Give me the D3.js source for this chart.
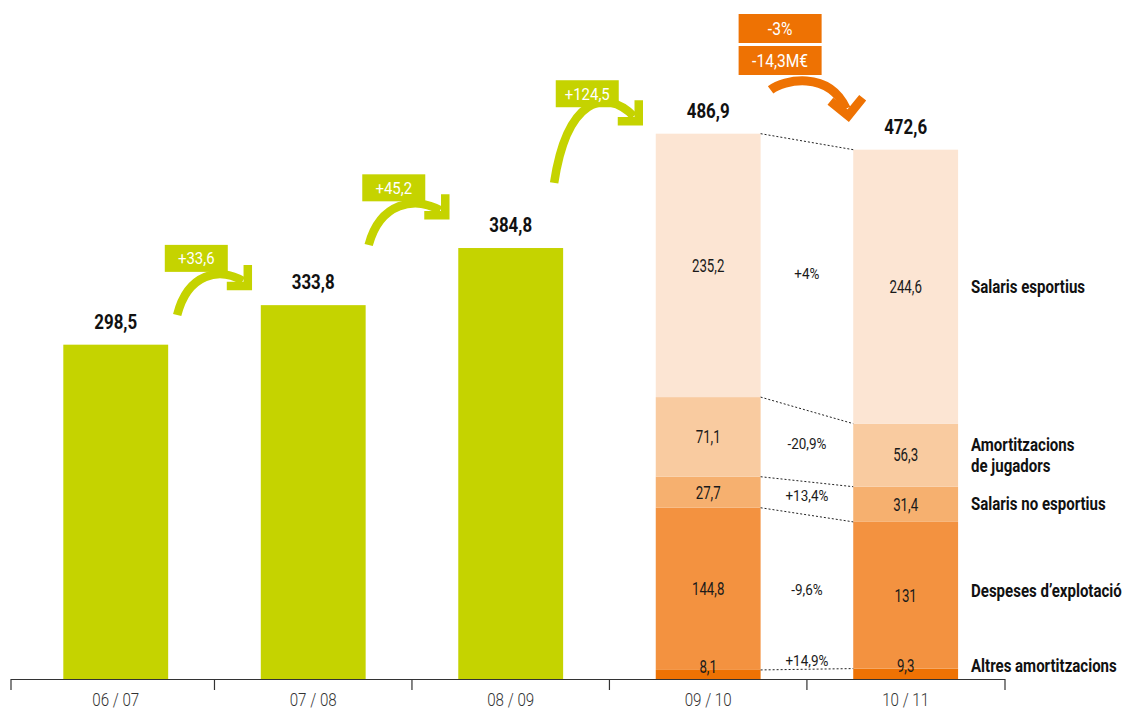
<!DOCTYPE html>
<html><head><meta charset="utf-8">
<script src="https://cdn.jsdelivr.net/npm/d3@7"></script>
<style>
body{margin:0;background:#fff;}
svg{display:block;font-family:Roboto,"Noto Sans","DejaVu Sans",sans-serif;}
</style></head><body><svg id="chart" width="1125" height="711"></svg>
<script>
// ---------- DATA ----------
const categories = ["06 / 07", "07 / 08", "08 / 09", "09 / 10", "10 / 11"];
const totals = [298.5, 333.8, 384.8, 486.9, 472.6];
const stackedCats = ["09 / 10", "10 / 11"];
const seriesNames = ["Altres amortitzacions", "Despeses d’explotació", "Salaris no esportius", "Amortitzacions de jugadors", "Salaris esportius"];
const legendLines = [["Altres amortitzacions"], ["Despeses d’explotació"], ["Salaris no esportius"], ["Amortitzacions", "de jugadors"], ["Salaris esportius"]];
const values0910 = [8.1, 144.8, 27.7, 71.1, 235.2];
const values1011 = [9.3, 131, 31.4, 56.3, 244.6];
const changeLabels = ["+14,9%", "-9,6%", "+13,4%", "-20,9%", "+4%"];
const growthLabels = ["+33,6", "+45,2", "+124,5"];
const growthStart = [325, 387.5, 443];   // arrow start level (value units)
const growthEnd = [351, 414, 498];       // arrow tip level (value units)
const dropLabels = ["-3%", "-14,3M€"];

// ---------- STYLE ----------
const green = "#c5d300";
const orange = "#ee7203";
const seriesColors = ["#ee7203", "#f39240", "#f6b06f", "#f9cba0", "#fce5d3"];

const loc = d3.formatLocale({decimal: ",", thousands: ".", grouping: [3], currency: ["", "€"]});
const fmt = v => Number.isInteger(v) ? String(v) : loc.format(".1f")(v);

const svg = d3.select("#chart");

// condensed text styles (scaled horizontally to mimic a condensed face)
const textStyles = {
  legend: {size: 17.5, weight: "bold", sample: "Despeses d’explotació", target: 151, fill: "#111"},
  total:  {size: 19.5, weight: "bold", sample: "486,9", target: 43, fill: "#111"},
  axis:   {size: 19, weight: 300, sample: "06 / 07", target: 47, fill: "#333"},
  seg:    {size: 18, weight: "normal", sample: "71,1", target: 25, fill: "#1a1a1a"},
  change: {size: 14.5, weight: "normal", sample: "-20,9%", target: 39, fill: "#1a1a1a"},
  green:  {size: 17, weight: "normal", sample: "+124,5", target: 45, fill: "#fff"},
  orange: {size: 18, weight: "normal", sample: "-14,3M€", target: 56, fill: "#fff"}
};
Object.values(textStyles).forEach(s => {
  const t = svg.append("text").attr("font-size", s.size).attr("font-weight", s.weight).text(s.sample);
  const w = t.node().getComputedTextLength();
  t.remove();
  s.k = Math.min(1, s.target / w);
});
function addText(g, cls, xx, yy, txt, anchor, dy) {
  const s = textStyles[cls];
  return g.append("text")
    .attr("x", xx).attr("y", yy).attr("dy", dy || null)
    .attr("text-anchor", anchor || "middle")
    .attr("font-size", s.size).attr("font-weight", s.weight).attr("fill", s.fill)
    .attr("transform", `translate(${xx},0) scale(${s.k},1) translate(${-xx},0)`)
    .text(txt);
}

const x = d3.scaleBand().domain(categories).range([17, 1004.4]).paddingInner(0.469).paddingOuter(0.2345);
const y = d3.scaleLinear().domain([0, 600]).range([679, 7]);
const bw = x.bandwidth();

// ---------- GREEN BARS ----------
const greenCats = categories.filter(c => !stackedCats.includes(c));
svg.append("g").selectAll("rect").data(greenCats).join("rect")
  .attr("x", c => x(c)).attr("width", bw)
  .attr("y", c => y(totals[categories.indexOf(c)]))
  .attr("height", c => y(0) - y(totals[categories.indexOf(c)]))
  .attr("fill", green);

// ---------- STACKED ----------
const rows = stackedCats.map((c, j) => {
  const o = {cat: c};
  seriesNames.forEach((s, i) => o[s] = (j === 0 ? values0910 : values1011)[i]);
  return o;
});
const layers = d3.stack().keys(seriesNames)(rows);

const gStack = svg.append("g");
layers.forEach((layer, i) => {
  gStack.selectAll(null).data(layer).join("rect")
    .attr("x", d => x(d.data.cat)).attr("width", bw)
    .attr("y", d => y(d[1])).attr("height", d => y(d[0]) - y(d[1]))
    .attr("fill", seriesColors[i]);
});
function labelY(d) {
  const h = y(d[0]) - y(d[1]);
  return h < 20 ? y(d[1]) - 3 : (y(d[0]) + y(d[1])) / 2;
}
layers.forEach((layer) => {
  layer.forEach(d => addText(gStack, "seg", x(d.data.cat) + bw / 2, labelY(d), fmt(d.data[layer.key]), "middle", "0.35em"));
});

// dotted connectors
const xL = x(stackedCats[0]) + bw, xR = x(stackedCats[1]);
svg.append("g").selectAll("line").data(layers).join("line")
  .attr("x1", xL).attr("x2", xR)
  .attr("y1", l => y(l[0][1])).attr("y2", l => y(l[1][1]))
  .attr("stroke", "#222").attr("stroke-width", 1).attr("stroke-dasharray", "2,2");

// change labels
const gChg = svg.append("g");
layers.forEach((l, i) => {
  const h = y(l[0][0]) - y(l[0][1]);
  const cy = h < 20 ? (y(l[0][1]) + y(l[1][1])) / 2 - 8 : (labelY(l[0]) + labelY(l[1])) / 2 - 2;
  addText(gChg, "change", (xL + xR) / 2, cy, changeLabels[i], "middle", "0.35em");
});

// legend labels
const gLeg = svg.append("g");
layers.forEach((layer, i) => {
  const cy = labelY(layer[1]) + (i === 1 ? -4 : 0);
  const lines = legendLines[i];
  lines.forEach((t, k) => addText(gLeg, "legend", 971, cy + (k - (lines.length - 1) / 2) * 21, t, "start", "0.35em"));
});

// ---------- TOTAL LABELS ----------
const gTot = svg.append("g");
categories.forEach((c, i) => addText(gTot, "total", x(c) + bw / 2, y(totals[i]) - 16, fmt(totals[i]), "middle"));

// ---------- AXIS ----------
const gAx = svg.append("g");
gAx.append("line").attr("x1", 11).attr("x2", 1005).attr("y1", 679.5).attr("y2", 679.5)
  .attr("stroke", "#333").attr("stroke-width", 1.2);
const bounds = [11];
for (let i = 1; i < categories.length; i++) bounds.push((x(categories[i - 1]) + bw + x(categories[i])) / 2);
bounds.push(1005);
gAx.selectAll("line.tick").data(bounds).join("line").attr("class", "tick")
  .attr("x1", d => d).attr("x2", d => d).attr("y1", 679).attr("y2", 690)
  .attr("stroke", "#333").attr("stroke-width", 1.2);
categories.forEach(c => addText(gAx, "axis", x(c) + bw / 2, 706, c, "middle"));

// ---------- ARROWS ----------
function chevron(cx, cy, angDeg, L) {
  const a = angDeg * Math.PI / 180;
  const a1 = a + Math.PI - Math.PI / 4, a2 = a + Math.PI + Math.PI / 4;
  return `M${cx + L * Math.cos(a1)},${cy + L * Math.sin(a1)}L${cx},${cy}L${cx + L * Math.cos(a2)},${cy + L * Math.sin(a2)}`;
}
const startDx = [9, 3, -9], endDx = [-13, -13, -17];
const gArr = svg.append("g");
growthLabels.forEach((lab, i) => {
  const x0 = x(categories[i]) + bw + startDx[i], y0 = y(growthStart[i]);
  const xe = x(categories[i + 1]) + endDx[i], ye = y(growthEnd[i]);
  const dx = xe - x0, dy = y0 - ye, h = 4 + 0.3 * dy;
  gArr.append("path")
    .attr("d", `M${x0},${y0}C${x0 + 0.15 * dx},${ye - h} ${x0 + 0.6 * dx},${ye - 1.5 * h} ${xe - 5},${ye - 5}`)
    .attr("fill", "none").attr("stroke", green).attr("stroke-width", 8.5);
  gArr.append("path").attr("d", chevron(xe, ye, 45, 21))
    .attr("fill", "none").attr("stroke", green).attr("stroke-width", 8.5)
    .attr("stroke-linejoin", "miter").attr("stroke-linecap", "butt");
  gArr.append("rect").attr("x", xe - 83).attr("y", ye - 41).attr("width", 63).attr("height", 27).attr("fill", green);
  addText(gArr, "green", xe - 83 + 31.5, ye - 41 + 13.5, lab, "middle", "0.35em");
});

// orange drop arrow
{
  const x0 = x(stackedCats[0]) + bw + 10, y0 = y(526);
  const xe = x(stackedCats[1]) - 5, ye = y(503);
  gArr.append("path")
    .attr("d", `M${x0},${y0}C${x0 + 13},${y0 - 10} ${xe - 20},${y0 - 20} ${xe - 2},${ye - 7}`)
    .attr("fill", "none").attr("stroke", orange).attr("stroke-width", 9);
  gArr.append("path").attr("d", chevron(xe, ye, 84, 23))
    .attr("fill", "none").attr("stroke", orange).attr("stroke-width", 9)
    .attr("stroke-linejoin", "miter").attr("stroke-linecap", "butt");
  const bx = x(stackedCats[0]) + bw - 22;
  const boxYs = [14, 46];
  dropLabels.forEach((lab, k) => {
    gArr.append("rect").attr("x", bx).attr("y", boxYs[k]).attr("width", 83).attr("height", 29).attr("fill", orange);
    addText(gArr, "orange", bx + 41.5, boxYs[k] + 14.5, lab, "middle", "0.35em");
  });
}
</script></body></html>
